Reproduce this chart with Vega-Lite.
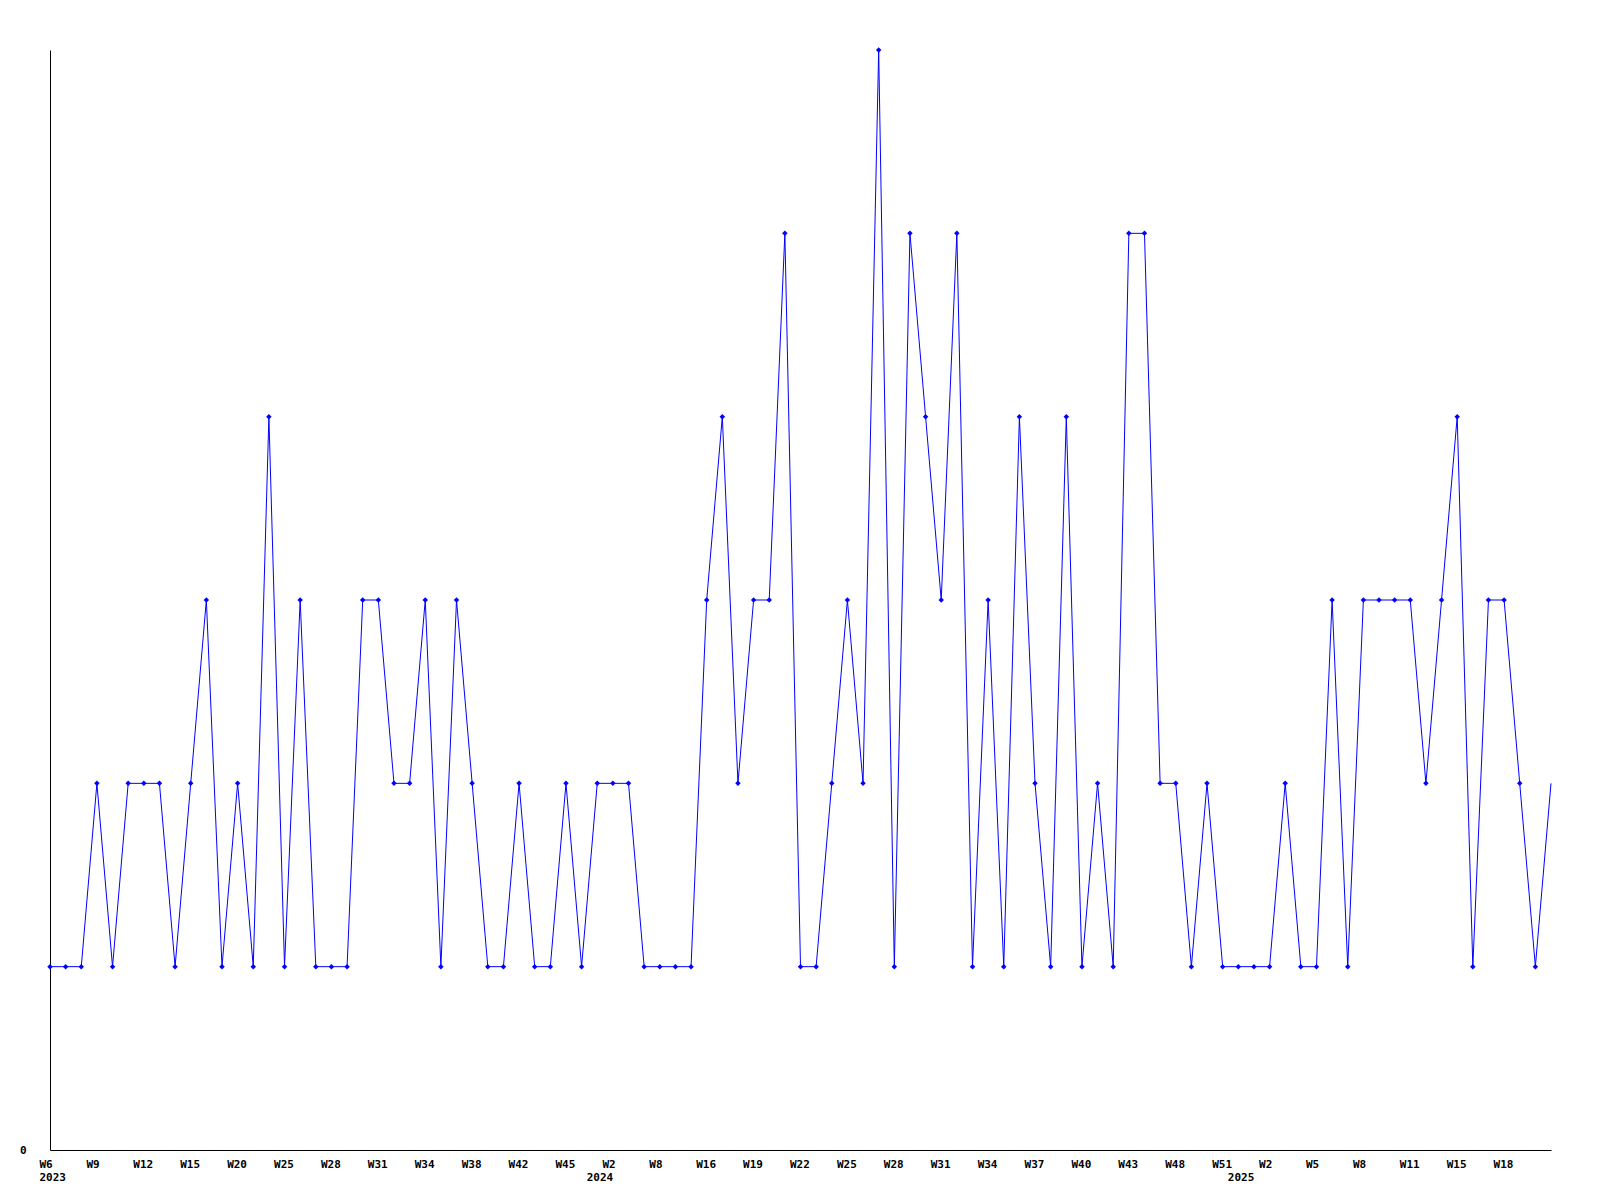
{
  "$schema": "https://vega.github.io/schema/vega-lite/v6.json",
  "width": 1501,
  "height": 1100,
  "autosize": "none",
  "padding": {"left": 50, "top": 50, "right": 49, "bottom": 50},
  "background": "white",
  "config": {"view": {"stroke": null}},
  "data": {"values": [
    {"i":0,"v":1},{"i":1,"v":1},{"i":2,"v":1},{"i":3,"v":2},{"i":4,"v":1},{"i":5,"v":2},{"i":6,"v":2},{"i":7,"v":2},{"i":8,"v":1},{"i":9,"v":2},
    {"i":10,"v":3},{"i":11,"v":1},{"i":12,"v":2},{"i":13,"v":1},{"i":14,"v":4},{"i":15,"v":1},{"i":16,"v":3},{"i":17,"v":1},{"i":18,"v":1},{"i":19,"v":1},
    {"i":20,"v":3},{"i":21,"v":3},{"i":22,"v":2},{"i":23,"v":2},{"i":24,"v":3},{"i":25,"v":1},{"i":26,"v":3},{"i":27,"v":2},{"i":28,"v":1},{"i":29,"v":1},
    {"i":30,"v":2},{"i":31,"v":1},{"i":32,"v":1},{"i":33,"v":2},{"i":34,"v":1},{"i":35,"v":2},{"i":36,"v":2},{"i":37,"v":2},{"i":38,"v":1},{"i":39,"v":1},
    {"i":40,"v":1},{"i":41,"v":1},{"i":42,"v":3},{"i":43,"v":4},{"i":44,"v":2},{"i":45,"v":3},{"i":46,"v":3},{"i":47,"v":5},{"i":48,"v":1},{"i":49,"v":1},
    {"i":50,"v":2},{"i":51,"v":3},{"i":52,"v":2},{"i":53,"v":6},{"i":54,"v":1},{"i":55,"v":5},{"i":56,"v":4},{"i":57,"v":3},{"i":58,"v":5},{"i":59,"v":1},
    {"i":60,"v":3},{"i":61,"v":1},{"i":62,"v":4},{"i":63,"v":2},{"i":64,"v":1},{"i":65,"v":4},{"i":66,"v":1},{"i":67,"v":2},{"i":68,"v":1},{"i":69,"v":5},
    {"i":70,"v":5},{"i":71,"v":2},{"i":72,"v":2},{"i":73,"v":1},{"i":74,"v":2},{"i":75,"v":1},{"i":76,"v":1},{"i":77,"v":1},{"i":78,"v":1},{"i":79,"v":2},
    {"i":80,"v":1},{"i":81,"v":1},{"i":82,"v":3},{"i":83,"v":1},{"i":84,"v":3},{"i":85,"v":3},{"i":86,"v":3},{"i":87,"v":3},{"i":88,"v":2},{"i":89,"v":3},
    {"i":90,"v":4},{"i":91,"v":1},{"i":92,"v":3},{"i":93,"v":3},{"i":94,"v":2},{"i":95,"v":1},{"i":96,"v":2}
  ]},
  "encoding": {
    "x": {
      "field": "i", "type": "quantitative",
      "scale": {"domain": [0, 96], "nice": false, "zero": false},
      "axis": {
        "title": null, "grid": false, "ticks": false, "tickSize": 0,
        "domainColor": "black", "domainWidth": 1,
        "values": [0,3,6,9,12,15,18,21,24,27,30,33,35,36,39,42,45,48,51,54,57,60,63,66,69,72,75,76,78,81,84,87,90,93],
        "labelExpr": "datum.value == 35 ? ['', '2024'] : datum.value == 76 ? ['', '2025'] : datum.value == 0 ? ['W6', '2023'] : ['W6','W9','W12','W15','W20','W25','W28','W31','W34','W38','W42','W45','W2','W8','W16','W19','W22','W25','W28','W31','W34','W37','W40','W43','W48','W51','W2','W5','W8','W11','W15','W18'][datum.value / 3]",
        "labelAlign": "left", "labelOffset": -11, "labelBaseline": "top",
        "labelPadding": 8, "labelLineHeight": 13,
        "labelFont": "DejaVu Sans Mono", "labelFontWeight": "bold", "labelFontSize": 11, "labelColor": "black",
        "labelOverlap": false, "labelFlush": false, "labelBound": false
      }
    },
    "y": {
      "field": "v", "type": "quantitative",
      "scale": {"domain": [0, 6], "nice": false, "zero": true},
      "axis": {
        "title": null, "grid": false, "ticks": false, "tickSize": 0,
        "domainColor": "black", "domainWidth": 1,
        "values": [0], "labelPadding": 24,
        "labelFont": "DejaVu Sans Mono", "labelFontWeight": "bold", "labelFontSize": 11, "labelColor": "black"
      }
    }
  },
  "layer": [
    {"mark": {"type": "line", "color": "#0000ff", "strokeWidth": 1, "interpolate": "linear"}},
    {
      "transform": [{"filter": "datum.i < 96"}],
      "mark": {"type": "point", "shape": "diamond", "filled": true, "color": "#0000ff", "size": 30, "opacity": 1}
    }
  ]
}
